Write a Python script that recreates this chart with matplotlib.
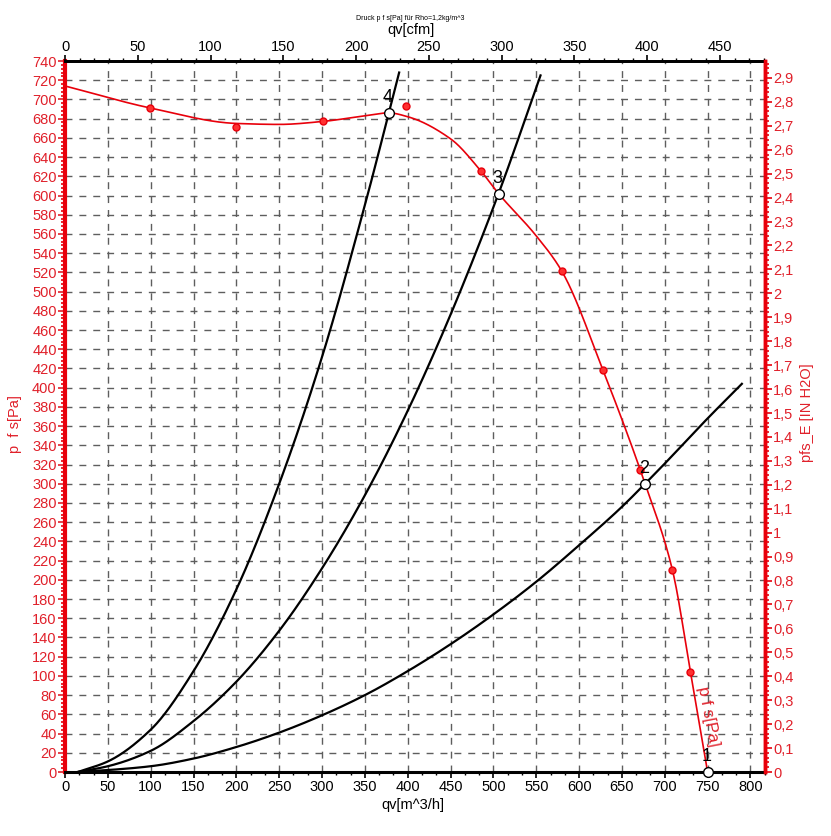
import matplotlib
matplotlib.use("Agg")
import matplotlib.pyplot as plt
from matplotlib.ticker import MultipleLocator, FuncFormatter
import numpy as np

plt.rcParams['font.family'] = ['Liberation Sans', 'DejaVu Sans']

# ---- data ----
fan_x = [0, 100, 200, 250, 300, 350, 378, 400, 450, 485, 506, 550, 580, 628, 677, 709, 730, 750]
fan_y = [714, 691, 675, 674, 677, 683, 686, 682, 659, 626, 602, 558, 521, 418, 300, 210, 104, 0]

meas_x = [99, 200, 301, 398, 485, 580, 628, 671, 709, 730]
meas_y = [691, 671, 678, 693, 625, 521, 418, 314, 210, 104]

sys4_x = [15, 50, 100, 150, 200, 250, 300, 350, 378, 390]
sys4_y = [0, 11, 44, 105, 190, 300, 432, 590, 686, 728]

sys3_x = [15, 50, 100, 150, 200, 250, 300, 350, 400, 450, 506, 555]
sys3_y = [0, 6, 22, 53, 94, 147, 212, 288, 376, 476, 602, 725]

sys2_x = [15, 50, 100, 150, 200, 250, 300, 350, 400, 450, 500, 550, 600, 650, 677, 700, 750, 790]
sys2_y = [0, 2, 6, 14, 26, 41, 59, 80, 105, 133, 164, 198, 236, 276, 300, 321, 368, 404]

op_x = [750, 677, 506, 378]
op_y = [0, 300, 602, 686]
op_labels = ["1", "2", "3", "4"]

x_max = 817.0
y_max = 740.0
pa_per_inh2o = 249.089
m3h_per_cfm = 1.699

red = '#e8000b'
red_txt = '#e0202a'


def smooth(xs, ys, n=400):
    """Monotone cubic (PCHIP) curve through the read points, for drawing only."""
    x = np.asarray(xs, float)
    y = np.asarray(ys, float)
    h = np.diff(x)
    delta = np.diff(y) / h
    m = np.zeros_like(y)
    for k in range(1, len(x) - 1):
        if delta[k - 1] * delta[k] > 0:
            w1 = 2 * h[k] + h[k - 1]
            w2 = h[k] + 2 * h[k - 1]
            m[k] = (w1 + w2) / (w1 / delta[k - 1] + w2 / delta[k])
    m[0] = delta[0]
    m[-1] = delta[-1]
    xx = np.linspace(x[0], x[-1], n)
    idx = np.clip(np.searchsorted(x, xx) - 1, 0, len(x) - 2)
    t = (xx - x[idx]) / h[idx]
    h00 = 2 * t**3 - 3 * t**2 + 1
    h10 = t**3 - 2 * t**2 + t
    h01 = -2 * t**3 + 3 * t**2
    h11 = t**3 - t**2
    yy = (h00 * y[idx] + h10 * h[idx] * m[idx] + h01 * y[idx + 1]
          + h11 * h[idx] * m[idx + 1])
    return xx, yy


fig = plt.figure(figsize=(8.31, 8.36), dpi=100)
ax = fig.add_axes([65/831, 64/836, 700/831, 711/836])

ax.set_xlim(0, x_max)
ax.set_ylim(0, y_max)

# grid
ax.xaxis.set_major_locator(MultipleLocator(50))
ax.xaxis.set_minor_locator(MultipleLocator(50/3))
ax.yaxis.set_major_locator(MultipleLocator(20))
ax.yaxis.set_minor_locator(MultipleLocator(4))
ax.grid(True, which='major', color='#5e5e5e', linestyle=(0, (5, 5)), linewidth=1.0)

# system curves
for xs, ys in [(sys4_x, sys4_y), (sys3_x, sys3_y), (sys2_x, sys2_y)]:
    sx, sy = smooth(xs, ys)
    ax.plot(sx, np.clip(sy, 0, None), color='black', lw=1.6, zorder=3)

# fan curve
fx, fy = smooth(fan_x, fan_y, 800)
ax.plot(fx, fy, color=red, lw=1.2, zorder=4)
ax.plot(meas_x, meas_y, 'o', color=red, ms=5, mec=red, mfc='#ff3030', zorder=5)

# operating points
ax.plot(op_x, op_y, 'o', ms=7, mfc='white', mec='black', mew=1.0, zorder=6, clip_on=False)
for x, y, t in zip(op_x, op_y, op_labels):
    ax.annotate(t, (x, y), xytext=(-1, 5), textcoords='offset points',
                fontsize=13, color='black', ha='center', va='bottom', zorder=7)

ax.text(751, 58, "p f s[Pa]", color=red_txt, fontsize=12, rotation=-79,
        ha='center', va='center', zorder=7)

# spines / ticks
ax.spines['left'].set_color(red)
ax.spines['left'].set_linewidth(3)
ax.spines['bottom'].set_linewidth(2.2)
ax.spines['top'].set_linewidth(2)
ax.spines['right'].set_color(red)
ax.spines['right'].set_linewidth(2.5)

ax.tick_params(axis='y', which='major', colors=red_txt, labelcolor=red_txt, labelsize=10.5,
               length=5, width=1.2, direction='out', pad=1)
ax.tick_params(axis='y', which='minor', color=red, length=3, width=1.2, direction='out')
ax.tick_params(axis='x', which='major', labelsize=10.5, length=4, width=1.2, direction='out', pad=2)
ax.tick_params(axis='x', which='minor', length=2.5, width=1, direction='out')

ax.set_xlabel("qv[m^3/h]", fontsize=10.5, labelpad=-1)
ax.xaxis.set_label_coords(0.497, -0.036)
ax.set_ylabel("p  f s[Pa]", color=red_txt, fontsize=10.5)
ax.yaxis.set_label_coords(-0.061, 0.49)

# top axis (cfm)
axt = ax.twiny()
axt.set_xlim(0, x_max / m3h_per_cfm)
axt.xaxis.set_major_locator(MultipleLocator(50))
axt.xaxis.set_minor_locator(MultipleLocator(10))
axt.tick_params(axis='x', which='major', labelsize=10.5, length=4, width=1.2, direction='out', pad=1)
axt.tick_params(axis='x', which='minor', length=2.5, width=1, direction='out')
axt.set_xlabel("qv[cfm]", fontsize=10.5)
axt.xaxis.set_label_coords(0.494, 1.038)
for s in ['left', 'right', 'bottom']:
    axt.spines[s].set_visible(False)
axt.spines['top'].set_linewidth(2)

# right axis (in H2O)
axr = ax.twinx()
axr.set_ylim(0, y_max / pa_per_inh2o)
axr.yaxis.set_major_locator(MultipleLocator(0.1))
axr.yaxis.set_minor_locator(MultipleLocator(0.02))


def comma_fmt(v, pos):
    s = f"{v:.1f}"
    if s.endswith(".0"):
        s = s[:-2]
    return s.replace(".", ",")


axr.yaxis.set_major_formatter(FuncFormatter(comma_fmt))
axr.tick_params(axis='y', which='major', colors=red, labelcolor=red_txt, labelsize=10.5,
                length=5, width=1.2, direction='out', pad=1)
axr.tick_params(axis='y', which='minor', color=red, length=3, width=1.2, direction='out')
axr.set_ylabel("pfs_E [IN H2O]", color=red_txt, fontsize=10.5)
axr.yaxis.set_label_coords(1.05, 0.505)
for s in ['left', 'top', 'bottom']:
    axr.spines[s].set_visible(False)
axr.spines['right'].set_color(red)
axr.spines['right'].set_linewidth(2.5)

fig.text(410/831, 1 - 18/836, "Druck p f s[Pa] für Rho=1,2kg/m^3", fontsize=5,
         ha='center', va='center')

fig.savefig("out.png", dpi=100)
